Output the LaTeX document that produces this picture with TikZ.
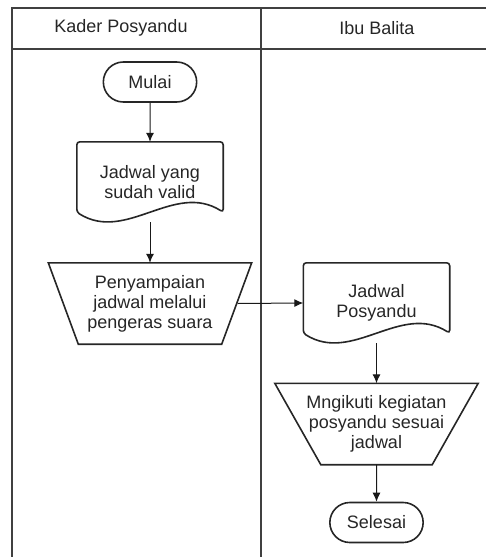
\documentclass[tikz,border=0pt]{standalone}
\usepackage{fontspec}
\setmainfont{Liberation Sans}
\usetikzlibrary{shapes.misc,arrows.meta,calc}

\begin{document}
\begin{tikzpicture}[x=1pt,y=-1pt,>={Latex[length=9pt,width=8pt]},
	every node/.style={font=\fontsize{18}{20}\selectfont,align=center,text=black!85},
	lane/.style={line width=1.4pt,black!75},
	shp/.style={line width=1.6pt,black!85},
	flow/.style={->,line width=1pt,black!90},
	terminal/.style={rounded rectangle,draw,shp,minimum width=100pt,minimum height=40pt},
	docbox/.style={minimum width=146pt,minimum height=80pt,inner sep=0pt},
	manual/.style={minimum width=203pt,minimum height=81pt,inner sep=0pt}]
	\useasboundingbox (0,0) rectangle (486,557);
	% swimlanes
	\draw [lane] (486,8) -- (12,8) -- (12,557);
	\draw [lane] (12,49) -- (486,49);
	\draw [lane] (261,8) -- (261,557);
	\node (kader) at (121,28) {Kader Posyandu};
	\node (ibu) at (377,28) {Ibu Balita};
	% flow
	\node [terminal] (mulai) at (150,82) {Mulai};
	\node [docbox] (valid) at (150,182) {Jadwal yang\\sudah valid};
	\node [manual] (siar) at (150,303.5) {Penyampaian\\jadwal melalui\\pengeras suara};
	\node [docbox] (jpos) at (376.5,303) {Jadwal\\Posyandu};
	\node [manual] (ikut) at (376.5,424) {Mngikuti kegiatan\\posyandu sesuai\\jadwal};
	\node [terminal] (selesai) at (376.5,522.5) {Selesai};
	% document shapes
	\foreach \n in {valid,jpos}
		\draw [shp,rounded corners=3pt] ($(\n.south west)+(0,-10)$) -- (\n.north west) -- (\n.north east) -- ($(\n.south east)+(0,-10)$) .. controls +(-49,-31) and +(49,31) .. ($(\n.south west)+(0,-10)$) -- cycle;
	% manual operation shapes
	\foreach \n/\d in {siar/30,ikut/46}
		\draw [shp] (\n.north west) -- (\n.north east) -- ($(\n.south east)+(-\d,0)$) -- ($(\n.south west)+(\d,0)$) -- cycle;
	\draw [flow] (mulai) -- (valid);
	\draw [flow] (valid) -- (siar);
	\draw [flow] ($(siar.east)+(-14,0)$) -- (jpos.west);
	\draw [flow] (jpos) -- (ikut);
	\draw [flow] (ikut) -- (selesai);
\end{tikzpicture}
\end{document}
